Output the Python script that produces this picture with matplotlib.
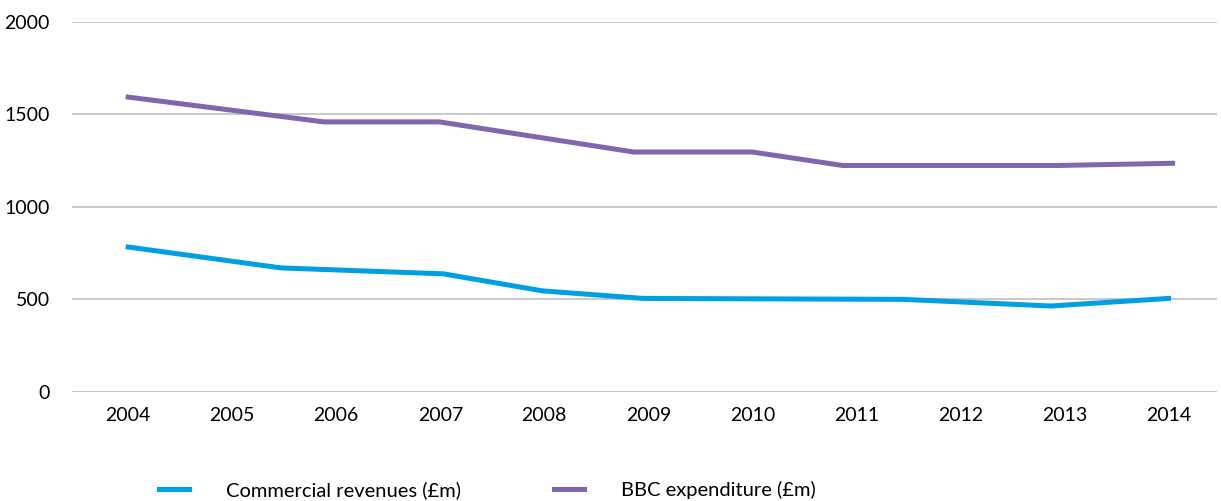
import matplotlib
matplotlib.use("Agg")
import matplotlib.pyplot as plt

plt.rcParams['font.family'] = ['Lato', 'DejaVu Sans']

# year labels on the axis
years = [2004, 2005, 2006, 2007, 2008, 2009, 2010, 2011, 2012, 2013, 2014]

# series points (x given as fractional years)
commercial_x = [2004.0, 2005.47, 2007.03, 2007.98, 2008.95, 2011.45, 2012.87, 2014.0]
commercial_y = [783, 670, 638, 546, 505, 500, 464, 505]

bbc_x = [2004.0, 2005.88, 2006.99, 2008.86, 2010.0, 2010.87, 2012.93, 2014.04]
bbc_y = [1594, 1460, 1460, 1297, 1297, 1224, 1224, 1236]

yticks = [0, 500, 1000, 1500, 2000]

fig = plt.figure(figsize=(12.21, 5.01), dpi=100)
ax = fig.add_axes([0.059, 0.218, 0.938, 0.738])

for y in yticks:
    ax.axhline(y, color='#BFBFBF', lw=1.2, zorder=1)

ax.plot(commercial_x, commercial_y, color='#009FE3', lw=3.6,
        solid_joinstyle='miter', label='Commercial revenues (£m)', zorder=3)
ax.plot(bbc_x, bbc_y, color='#8066AC', lw=3.6,
        solid_joinstyle='miter', label='BBC expenditure (£m)', zorder=3)

ax.set_xlim(2003.46, 2014.47)
ax.set_ylim(0, 2000)
ax.set_xticks(years)
ax.set_xticklabels([str(y) for y in years])
ax.set_yticks(yticks)
ax.tick_params(length=0, labelsize=14, colors='black')
ax.tick_params(axis='x', pad=11)
ax.tick_params(axis='y', pad=16)
for s in ax.spines.values():
    s.set_visible(False)

fig.legend(loc='center', bbox_to_anchor=(0.399, 0.022), ncol=2, frameon=False,
           fontsize=14.5, handlelength=1.5, handletextpad=1.85, columnspacing=4.6)

fig.savefig('out.png', dpi=100)
